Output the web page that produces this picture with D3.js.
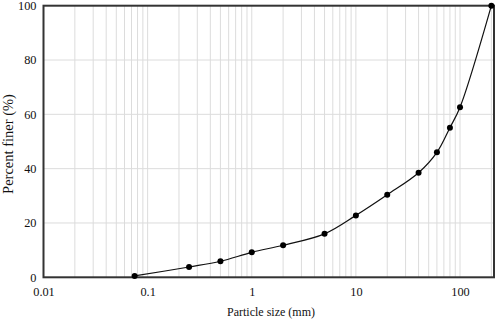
<!DOCTYPE html>
<html><head><meta charset="utf-8">
<script src="https://cdn.jsdelivr.net/npm/d3@7"></script>
<style>body{margin:0;background:#fff}svg{display:block}
svg text{font-family:"Liberation Serif","DejaVu Serif",serif !important;}</style>
</head><body>
<svg id="c" width="498" height="321"></svg>
<script>
const sizes = [0.075, 0.25, 0.5, 1, 2, 5, 10, 20, 40, 60, 80, 100, 200];
const finer = [0.5, 3.8, 5.9, 9.2, 11.8, 16.0, 22.8, 30.4, 38.5, 46.0, 55.1, 62.6, 100];
const xTicks = [0.01, 0.1, 1, 10, 100];
const xTickLabels = ["0.01", "0.1", "1", "10", "100"];
const yTicks = [0, 20, 40, 60, 80, 100];
const xMax = 212;

const W = 498, H = 321;
const m = {l: 43.5, t: 5.7, r: 4, b: 43.7};
const svg = d3.select("#c");
const x = d3.scaleLog().domain([0.01, xMax]).range([m.l, W - m.r]);
const y = d3.scaleLinear().domain([0, 100]).range([H - m.b, m.t]);

// minor grid
const minor = [];
for (let e = -2; e <= 2; e++) for (let k = 1; k <= 9; k++) {
  const v = k * Math.pow(10, e);
  if (v > 0.01 && v < xMax) minor.push(v);
}
svg.append("g").selectAll("line").data(minor).join("line")
  .attr("x1", d => x(d)).attr("x2", d => x(d))
  .attr("y1", y(0)).attr("y2", y(100))
  .attr("stroke", "#dcdcdc").attr("stroke-width", 1);
svg.append("g").selectAll("line").data(yTicks.slice(1, -1)).join("line")
  .attr("x1", x(0.01)).attr("x2", x(xMax))
  .attr("y1", d => y(d)).attr("y2", d => y(d))
  .attr("stroke", "#dcdcdc").attr("stroke-width", 1);

// frame
svg.append("rect").attr("x", x(0.01)).attr("y", y(100))
  .attr("width", x(xMax) - x(0.01)).attr("height", y(0) - y(100))
  .attr("fill", "none").attr("stroke", "#333").attr("stroke-width", 2);

// axes
const xa = svg.append("g").attr("transform", `translate(0,${y(0)})`)
  .call(d3.axisBottom(x).tickValues(xTicks).tickFormat((d, i) => xTickLabels[i]).tickSize(0).tickPadding(10));
const ya = svg.append("g").attr("transform", `translate(${x(0.01)},0)`)
  .call(d3.axisLeft(y).tickValues(yTicks).tickSize(0).tickPadding(7));
[xa, ya].forEach(a => {
  a.attr("font-family", null).attr("font-size", null);
  a.select(".domain").remove();
  a.selectAll("text").style("font-size", "12.3px").attr("fill", "#111");
});

// line
const line = d3.line().x((d, i) => x(sizes[i])).y(d => y(d)).curve(d3.curveCatmullRom.alpha(0.5));
svg.append("path").datum(finer).attr("d", line)
  .attr("fill", "none").attr("stroke", "#111").attr("stroke-width", 1.2);
svg.append("g").selectAll("circle").data(finer).join("circle")
  .attr("cx", (d, i) => x(sizes[i])).attr("cy", d => y(d)).attr("r", 3).attr("fill", "#000");

// labels
svg.append("text").attr("x", 271).attr("y", 315.5).attr("text-anchor", "middle")
  .style("font-size", "12px").attr("fill", "#111").text("Particle size (mm)");
svg.append("text").attr("transform", `translate(12.5,144) rotate(-90)`)
  .attr("text-anchor", "middle").style("font-size", "14.5px").attr("fill", "#111")
  .text("Percent finer (%)");
</script>
</body></html>
